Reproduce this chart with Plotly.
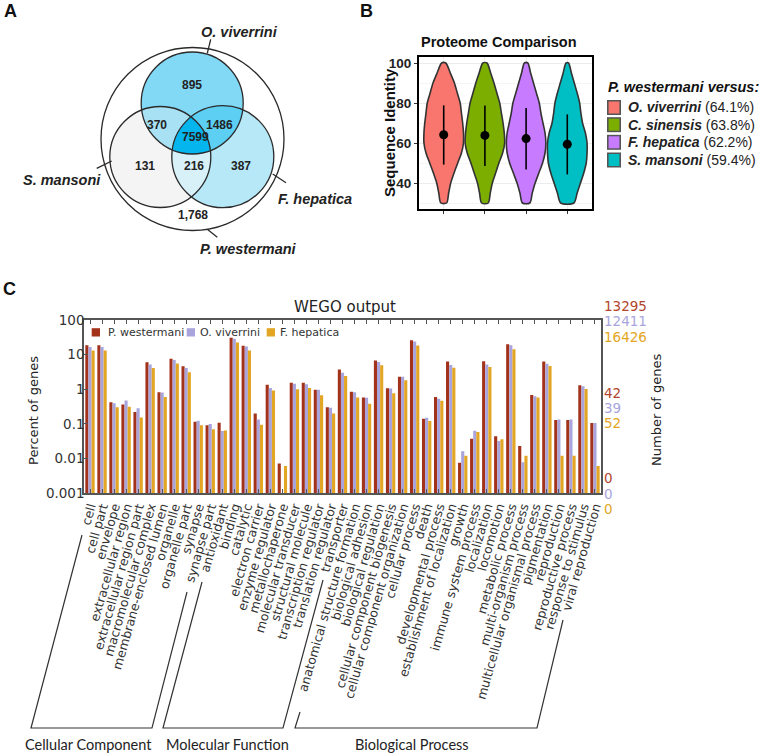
import numpy as np
import plotly.graph_objects as go

W, H = 764, 753
def px(x): return x / W
def py(y): return 1 - y / H

# ---------------- Panel A data (Venn) ----------------
venn_set_names = ["O. viverrini", "S. mansoni", "F. hepatica", "P. westermani"]
venn_region_names = ["OV only", "OV+SM", "OV+FH", "OV+SM+FH", "SM only", "SM+FH", "FH only", "PW only"]
venn_counts = [895, 370, 1486, 7599, 131, 216, 387, 1768]

# ---------------- Panel B data (violins) ----------------
species_b = ["O. viverrini", "C. sinensis", "F. hepatica", "S. mansoni"]
mean_identity = [64.1, 63.8, 62.2, 59.4]
sd_low = [49.2, 48.5, 46.8, 44.3]
sd_high = [78.8, 78.8, 77.5, 74.3]
identity_levels = [30, 35, 40, 45, 50, 55, 60, 65, 70, 75, 80, 85, 90, 95, 100]
density_ov = [0.07, 0.12, 0.17, 0.25, 0.34, 0.43, 0.48, 0.48, 0.46, 0.43, 0.40, 0.33, 0.26, 0.16, 0.05]
density_cs = [0.08, 0.13, 0.18, 0.26, 0.34, 0.43, 0.48, 0.47, 0.44, 0.40, 0.36, 0.29, 0.22, 0.14, 0.05]
density_fh = [0.09, 0.15, 0.22, 0.31, 0.40, 0.46, 0.48, 0.46, 0.41, 0.36, 0.32, 0.25, 0.18, 0.11, 0.04]
density_sm = [0.16, 0.24, 0.32, 0.40, 0.46, 0.48, 0.48, 0.44, 0.37, 0.33, 0.30, 0.24, 0.17, 0.10, 0.03]

# ---------------- Panel C data (WEGO) ----------------
categories = [
    "cell", "cell part", "envelope", "extracellular region", "extracellular region part",
    "macromolecular complex", "membrane-enclosed lumen", "organelle", "organelle part",
    "synapse", "synapse part",
    "antioxidant", "binding", "catalytic", "electron carrier", "enzyme regulator",
    "metallochaperone", "molecular transducer", "structural molecule",
    "transcription regulator", "translation regulator", "transporter",
    "anatomical structure formation", "biological adhesion", "biological regulation",
    "cellular component biogenesis", "cellular component organization", "cellular process",
    "death", "developmental process", "establishment of localization", "growth",
    "immune system process", "localization", "locomotion", "metabolic process",
    "multi-organism process", "multicellular organismal process", "pigmentation",
    "reproduction", "reproductive process", "response to stimulus", "viral reproduction",
]
pct_pw = [18.7, 18.7, 0.42, 0.36, 0.22, 6.0, 0.82, 7.6, 4.6, 0.114, 0.091,
          0.107, 30.6, 17.9, 0.20, 1.34, 0.0071, 1.53, 1.53, 0.96, 0.30, 3.7,
          0.84, 0.58, 6.7, 1.07, 2.3, 26.0, 0.14, 0.60, 6.3, 0.0075, 0.037, 6.4,
          0.044, 20.0, 0.023, 0.68, 6.3, 0.128, 0.128, 1.3, 0.105]
pct_ov = [16.7, 16.7, 0.39, 0.47, 0.28, 5.2, 0.80, 7.0, 4.1, 0.122, 0.098,
          0.062, 28.6, 17.1, 0.134, 1.09, None, 1.43, 1.40, 0.96, 0.29, 3.0,
          0.82, 0.57, 6.1, 1.04, 2.3, 24.0, 0.15, 0.53, 5.0, 0.016, 0.063, 5.2,
          0.032, 18.7, 0.0077, 0.63, 5.4, 0.134, 0.134, 1.22, 0.105]
pct_fh = [13.1, 13.1, 0.30, 0.31, 0.153, 4.1, 0.60, 5.5, 3.1, 0.091, 0.070,
          0.064, 22.4, 13.1, 0.094, 0.91, 0.006, 1.0, 1.09, 0.67, 0.20, 2.4,
          0.58, 0.38, 4.9, 0.76, 1.8, 18.3, 0.12, 0.46, 4.2, 0.012, 0.058, 4.4,
          0.036, 14.3, 0.012, 0.58, 4.7, 0.012, 0.012, 1.02, 0.006]
series_names = ["P. westermani", "O. viverrini", "F. hepatica"]
total_genes = [13295, 12411, 16426]
mid_genes = [42, 39, 52]
zero_genes = [0, 0, 0]
go_groups = ["Cellular Component", "Molecular Function", "Biological Process"]

C_PW, C_OV, C_FH = "#a3321a", "#a9a5dc", "#e3a624"
C_PW_TXT = "#b3452c"

fig = go.Figure()

# ======== Panel C bars ========
for name, vals, col in zip(series_names, [pct_pw, pct_ov, pct_fh], [C_PW, C_OV, C_FH]):
    fig.add_trace(go.Bar(x=categories, y=vals, name=name, marker=dict(color=col, line=dict(width=0)),
                         xaxis="x", yaxis="y", showlegend=False, hoverinfo="x+y"))

# ======== Panel B violins ========
vcols = ["#F8766D", "#7CAE00", "#C77CFF", "#00BFC4"]
levels = np.array(identity_levels, float)
for i, dens in enumerate([density_ov, density_cs, density_fh, density_sm]):
    d = np.array(dens)
    pos = i + 1
    xs = np.concatenate([pos + d, (pos - d)[::-1], [pos + d[0]]])
    ys = np.concatenate([levels, levels[::-1], [levels[0]]])
    fig.add_trace(go.Scatter(x=xs, y=ys, mode="lines", fill="toself", fillcolor=vcols[i],
                             line=dict(color="#333333", width=1.6, shape="spline", smoothing=0.8),
                             xaxis="x2", yaxis="y2", showlegend=False, hoverinfo="skip"))
for i in range(4):
    fig.add_trace(go.Scatter(x=[i + 1, i + 1], y=[sd_low[i], sd_high[i]], mode="lines",
                             line=dict(color="black", width=1.6), xaxis="x2", yaxis="y2",
                             showlegend=False, hoverinfo="skip"))
fig.add_trace(go.Scatter(x=[1, 2, 3, 4], y=mean_identity, mode="markers",
                         marker=dict(color="black", size=9), xaxis="x2", yaxis="y2",
                         showlegend=False, hoverinfo="y"))

# ======== Panel A Venn ========
circ_ov = (192.2, 103.0, 51.0)
circ_sm = (160.3, 157.0, 50.5)
circ_fh = (222.8, 156.7, 51.0)
circ_pw = (192.5, 139.0, 91.5)

def region_poly(circles):
    t = np.linspace(0, 2 * np.pi, 1441)
    pts = []
    for k, (cx, cy, r) in enumerate(circles):
        x = cx + r * np.cos(t)
        y = cy + r * np.sin(t)
        m = np.ones_like(x, bool)
        for j, (cx2, cy2, r2) in enumerate(circles):
            if j != k:
                m &= (x - cx2) ** 2 + (y - cy2) ** 2 <= r2 ** 2 + 1e-6
        pts.append(np.c_[x[m], y[m]])
    P = np.vstack(pts)
    c = P.mean(0)
    P = P[np.argsort(np.arctan2(P[:, 1] - c[1], P[:, 0] - c[0]))]
    P = np.vstack([P, P[:1]])
    return P[:, 0], P[:, 1]

venn_fills = [
    ([circ_sm], "#f4f4f4"),
    ([circ_fh], "#b6e8f8"),
    ([circ_ov], "#82d9f5"),
    ([circ_ov, circ_sm], "#a8e1f4"),
    ([circ_sm, circ_fh], "#d8f1f9"),
    ([circ_ov, circ_fh], "#5ccff3"),
    ([circ_ov, circ_sm, circ_fh], "#05b5ee"),
]
for circs, col in venn_fills:
    xs, ys = region_poly(circs)
    fig.add_trace(go.Scatter(x=xs, y=ys, mode="lines", fill="toself", fillcolor=col,
                             line=dict(width=0, color=col), xaxis="x3", yaxis="y3",
                             showlegend=False, hoverinfo="skip"))

shapes = []
for (cx, cy, r) in [circ_pw, circ_ov, circ_sm, circ_fh]:
    shapes.append(dict(type="circle", xref="x3", yref="y3", x0=cx - r, x1=cx + r, y0=cy - r, y1=cy + r,
                       line=dict(color="#2a2a2a", width=1.3), layer="above"))
for (x0, y0, x1, y1) in [(210.7, 39.3, 207.3, 53.3), (96.7, 168.3, 111.7, 161.0),
                         (272.7, 174.0, 286.0, 182.7), (207.3, 229.3, 217.3, 237.3)]:
    shapes.append(dict(type="line", xref="x3", yref="y3", x0=x0, y0=y0, x1=x1, y1=y1,
                       line=dict(color="#2a2a2a", width=1.3)))

annotations = []
def ann(x, y, text, size, color="#222", family="Liberation Sans", xanchor="center", angle=0, weight=None):
    f = dict(size=size, color=color, family=family)
    if weight:
        f["weight"] = weight
    annotations.append(dict(x=px(x), y=py(y), xref="paper", yref="paper", text=text, showarrow=False,
                            font=f, xanchor=xanchor, yanchor="middle", textangle=angle))

venn_pos = [(191.7, 85), (157.3, 125), (219.3, 125), (195, 137.3), (145, 166), (194, 166), (240.7, 166), (193.3, 215)]
for (x, y), c, nm in zip(venn_pos, venn_counts, venn_region_names):
    txt = f"{c:,}" if nm == "PW only" else str(c)
    ann(x, y, f"<b>{txt}</b>", 12, color="#222")
venn_label_pos = [(239.3, 32.3), (61.7, 180), (315, 199), (248.3, 249.3)]
for (x, y), nm in zip(venn_label_pos, venn_set_names):
    ann(x, y, f"<b><i>{nm}</i></b>", 14.5, color="#222")

# Panel letters
ann(10, 11, "<b>A</b>", 18, color="#111")
ann(366, 11, "<b>B</b>", 18, color="#111")
ann(9, 289, "<b>C</b>", 18, color="#111")

# ======== Panel B texts ========
ann(499, 42, "<b>Proteome Comparison</b>", 14.5, color="#111")
ann(389, 133, "<b>Sequence Identity</b>", 15, color="#111", angle=-90)
ann(606, 87, "<b><i>P. westermani versus:</i></b>", 14.5, color="#111", xanchor="left")
key_rows = [107.5, 124.7, 142.3, 160.0]
for i, (yc, nm) in enumerate(zip(key_rows, species_b)):
    shapes.append(dict(type="rect", xref="paper", yref="paper", x0=px(607), x1=px(621),
                       y0=py(yc + 7.5), y1=py(yc - 7.5), fillcolor="#555555", line=dict(width=0)))
    shapes.append(dict(type="rect", xref="paper", yref="paper", x0=px(608.6), x1=px(619.4),
                       y0=py(yc + 6), y1=py(yc - 6), fillcolor=vcols[i], line=dict(width=0)))
    ann(626, yc, f"<b><i>{nm}</i></b> ({mean_identity[i]:.1f}%)", 14, color="#222", xanchor="left")

# ======== Panel C texts ========
ann(345, 307, "WEGO output", 15, color="#222", family="DejaVu Sans")
ann(34, 411, "Percent of genes", 13, color="#222", family="DejaVu Sans", angle=-90)
ann(657, 410, "Number of genes", 13, color="#222", family="DejaVu Sans", angle=-90)
num_cols = [C_PW_TXT, C_OV, C_FH]
for i in range(3):
    ann(602, 305.7 + 15.5 * i, str(total_genes[i]), 13.5, color=num_cols[i], family="DejaVu Sans", xanchor="left")
    ann(602, 392.7 + 15.3 * i, str(mid_genes[i]), 13.5, color=num_cols[i], family="DejaVu Sans", xanchor="left")
    ann(602, 478.3 + 15.5 * i, str(zero_genes[i]), 13.5, color=num_cols[i], family="DejaVu Sans", xanchor="left")

# bar legend (manual keys)
leg_x = [(91.7, 106), (186.7, 197.5), (266.7, 278)]
for (kx, tx), nm, col in zip(leg_x, series_names, [C_PW, C_OV, C_FH]):
    shapes.append(dict(type="rect", xref="paper", yref="paper", x0=px(kx), x1=px(kx + 8.3),
                       y0=py(336.5), y1=py(328.2), fillcolor=col, line=dict(width=0)))
    ann(tx, 332.3, nm, 11, color="#333", family="DejaVu Sans", xanchor="left")

# brackets
def path_px(pts):
    return "M " + " L ".join(f"{px(x):.5f},{py(y):.5f}" for x, y in pts)
for pts in [[(82, 535), (31, 728), (152, 728), (187, 592)],
            [(202, 582), (163, 728), (283, 728), (323, 580)],
            [(300, 712), (295, 728), (537, 728), (563, 620)]]:
    shapes.append(dict(type="path", xref="paper", yref="paper", path=path_px(pts),
                       line=dict(color="#333", width=1.2)))
for (x, y), g in zip([(88, 744), (227, 744), (412, 744)], go_groups):
    ann(x, y, g, 14.5, color="#222", family="Lato")

fig.update_layout(
    width=W, height=H, margin=dict(l=0, r=0, t=0, b=0),
    paper_bgcolor="white", plot_bgcolor="white",
    barmode="group", bargap=0.22, bargroupgap=0.0,
    showlegend=False,
    shapes=shapes, annotations=annotations,
    xaxis=dict(domain=[px(84), px(601)], anchor="y", type="category",
               tickmode="array", tickvals=categories, ticktext=categories,
               showline=True, mirror="ticks", linecolor="#555", linewidth=1.5,
               ticks="inside", ticklen=4, tickcolor="#555", tickangle=-74,
               tickfont=dict(family="DejaVu Sans", size=12.5, color="#333"),
               showgrid=False, automargin=False),
    yaxis=dict(domain=[py(493), py(320)], anchor="x", type="log", range=[-3, 2],
               tickvals=[0.001, 0.01, 0.1, 1, 10, 100], ticktext=["0.001", "0.01", "0.1", "1", "10", "100"],
               showline=True, mirror=True, linecolor="#555", linewidth=1.5,
               ticks="inside", ticklen=4, tickcolor="#555", ticklabelstandoff=-5,
               tickfont=dict(family="DejaVu Sans", size=13.5, color="#333"),
               showgrid=False, zeroline=False, automargin=False),
    yaxis4=dict(overlaying="y", anchor="x", side="right", type="log", range=[-3, 2],
                tickvals=[mid_genes[0] / total_genes[0] * 100], showticklabels=False,
                ticks="inside", ticklen=4, tickcolor="#555", showgrid=False, showline=False,
                zeroline=False),
    xaxis2=dict(domain=[px(419), px(592)], anchor="y2", range=[0.4, 4.6],
                tickvals=[1, 2, 3, 4], showticklabels=False, ticks="outside", ticklen=3,
                tickcolor="#333", showline=True, mirror=True, linecolor="black", linewidth=2.2,
                showgrid=True, gridcolor="#ececec", gridwidth=1, zeroline=False),
    yaxis2=dict(domain=[py(209), py(57)], anchor="x2", range=[27, 103],
                tickvals=[40, 60, 80, 100], ticks="outside", ticklen=3, tickcolor="#333",
                tickfont=dict(family="Liberation Sans", size=13.5, color="#222", weight="bold"),
                showline=True, mirror=True, linecolor="black", linewidth=2.2,
                showgrid=True, gridcolor="#ececec", gridwidth=1, zeroline=False,
                minor=dict(tickvals=[30, 50, 70, 90], showgrid=True, gridcolor="#f5f5f5", ticks=""),
                automargin=False),
    xaxis3=dict(domain=[0, px(380)], anchor="y3", range=[0, 380], visible=False),
    yaxis3=dict(domain=[py(290), 1], anchor="x3", range=[290, 0], visible=False),
)

fig.write_html("out.html", config={"displayModeBar": False},
               post_script="document.body.style.margin='0px';")
